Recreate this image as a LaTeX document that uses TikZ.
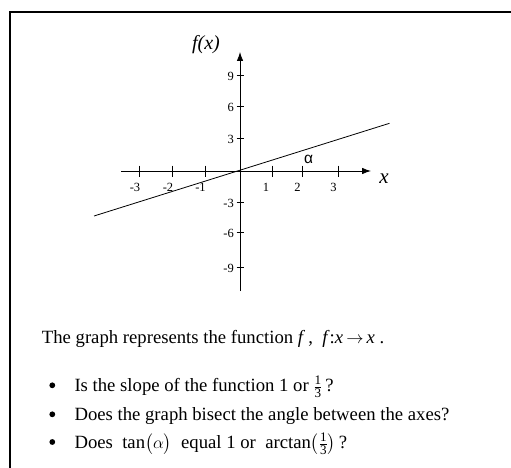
\documentclass[tikz,border=0pt]{standalone}
\usepackage{amsmath}
\usepackage{fontspec}
\setmainfont{Liberation Serif}
\setsansfont{Liberation Sans}
\usetikzlibrary{arrows.meta}
\begin{document}
\begin{tikzpicture}[x=1pt,y=-1pt,
  axis/.style={line width=0.8pt,-{Latex[length=9pt,width=6.5pt]}},
  tickx/.style={line width=0.7pt},
  ticklab/.style={font=\fontsize{12.5}{12.5}\selectfont,inner sep=0pt},
  body/.style={font=\fontsize{18.7}{20}\selectfont,anchor=base west,inner sep=0pt},
  dot/.style={circle,fill=black,inner sep=0pt,minimum size=5.8pt}]
\useasboundingbox (0,0) rectangle (511,468);
% frame
\coordinate (fb) at (10,470);
\coordinate (fc) at (10,12);
\coordinate (fr) at (513,12);
\draw[line width=1.3pt] (fb) -- (fc) -- (fr);
% axes
\coordinate (O) at (240,171);
\coordinate (xl) at (121,171);
\coordinate (xr) at (371,171);
\coordinate (yb) at (240,291);
\coordinate (yt) at (240,52);
\draw[axis] (xl) -- (xr);
\draw[axis] (yb) -- (yt);
% x ticks
\foreach \xx/\lab/\lx in {139.3/-3/135, 172.7/-2/168, 205.3/-1/200.5, 272.3/1/266, 302.7/2/297.5, 338.3/3/333.5}{
  \draw[tickx] (\xx,165.5) -- (\xx,176.5);
  \node[ticklab] at (\lx,187.5) {\lab};
}
% y ticks
\foreach \yy/\lab in {75/9, 106.7/6, 138.3/3, 202.7/-3, 232.3/-6, 267/-9}{
  \draw[tickx] (236.5,\yy) -- (244,\yy);
  \node[ticklab,anchor=east] at (234,\yy+1) {\lab};
}
% graph line
\coordinate (la) at (94,216);
\coordinate (lb) at (389.5,123.3);
\draw[line width=0.8pt] (la) -- (lb);
% labels
\node[inner sep=0pt,font=\fontsize{20}{20}\selectfont\itshape] (fx) at (206,45) {f(x)};
\node[inner sep=0pt,font=\fontsize{21}{21}\selectfont\itshape] (xlab) at (384,179) {x};
\node[inner sep=0pt,font=\fontsize{15.5}{15.5}\selectfont\sffamily] (alpha) at (308.5,159.5) {α};
% text
\node[body] (t0) at (41.7,343.3) {The graph represents the function \textit{f}\,,\ \ \textit{f}:\textit{x}\,$\rightarrow$\,\textit{x}\ .};
\node[dot] (b1) at (52.3,385.3) {};
\node[dot] (b2) at (52.3,414.3) {};
\node[dot] (b3) at (52.3,442) {};
\node[body] (t1) at (74.3,391.7) {Is the slope of the function 1 or $\tfrac{\text{1}}{\text{3}}$\,?};
\node[body] (t2) at (74.3,420.7) {Does the graph bisect the angle between the axes?};
\node[body] (t3) at (74.3,448.3) {Does\ \ tan$\bigl(\alpha\bigr)$\ \ equal 1 or\ \ arctan$\bigl(\tfrac{\text{1}}{\text{3}}\bigr)$\,?};
\end{tikzpicture}
\end{document}
